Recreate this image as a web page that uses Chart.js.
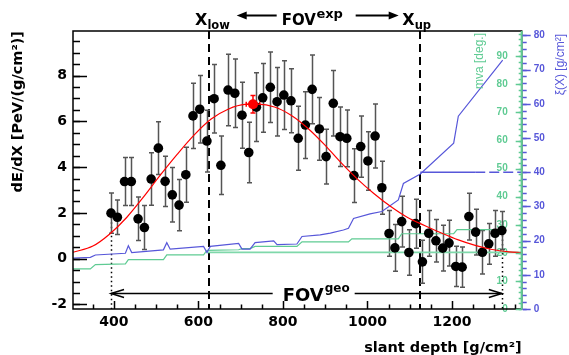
<!DOCTYPE html>
<html><head><meta charset="utf-8">
<script src="https://cdn.jsdelivr.net/npm/chart.js@4.4.1/dist/chart.umd.min.js"></script>
<style>html,body{margin:0;padding:0;background:#fff;overflow:hidden}canvas{display:block}</style>
</head><body>
<canvas id="c" width="569" height="355"></canvas>
<script>
// ---- data ----
const depth = [393,408,425,441,457,472,488,505,521,538,554,570,587,603,620,637,653,670,686,703,719,737,752,770,786,802,819,836,853,869,886,902,919,935,951,968,984,1001,1018,1034,1051,1065,1081,1098,1114,1130,1145,1162,1178,1193,1209,1224,1240,1256,1272,1287,1302,1318];
const dEdX = [1.99,1.81,3.37,3.37,1.74,1.36,3.48,4.83,3.38,2.79,2.34,3.67,6.24,6.53,5.14,6.99,4.08,7.37,7.23,6.27,4.64,6.62,7.03,7.49,6.86,7.15,6.90,5.26,5.84,7.40,5.67,4.46,6.79,5.33,5.26,3.63,4.90,4.27,5.36,3.10,1.10,0.47,1.62,0.27,1.53,-0.14,1.11,0.78,0.46,0.68,-0.34,-0.37,1.84,1.16,0.28,0.65,1.11,1.23];
const dEdXErr = [0.88,0.75,1.05,1.05,0.95,0.96,1.15,1.15,1.10,1.19,1.12,1.20,1.43,1.48,1.35,1.50,1.28,1.56,1.50,1.44,1.32,1.50,1.50,1.54,1.50,1.50,1.40,1.40,1.46,1.50,1.37,1.20,1.43,1.30,1.24,1.17,1.34,1.28,1.40,1.16,1.00,1.02,1.11,0.99,1.07,0.94,1.00,0.93,1.00,1.00,0.88,0.88,1.02,1.00,0.95,0.89,1.00,0.83];
const fitX = [303,350,390,430,470,510,550,590,630,670,710,740,780,820,860,900,935,975,1015,1055,1095,1135,1175,1215,1255,1295,1335,1365];
const fitY = [0.28,0.55,1.08,1.80,2.70,3.66,4.57,5.41,6.10,6.53,6.74,6.75,6.63,6.26,5.68,4.95,4.24,3.50,2.85,2.28,1.80,1.45,1.12,0.82,0.58,0.40,0.30,0.26];
const xmaxX = [729], xmaxY = [6.75], xmaxXErr = [16], xmaxYErr = [0.38];
const xiX = [303,344,356,427,434,442,517,525,533,612,620,628,695,703,722,734,778,786,833,845,888,912,943,955,967,1006,1034,1073,1085,1125,1204,1215,1320];
const xiY = [14.9,15.1,15.8,16.3,18.5,16.5,17.3,19.4,17.5,18.3,16.5,18.3,19.2,17.5,17.5,19.4,19.9,18.8,19.0,21.2,21.7,22.2,23.1,23.6,26.5,27.8,28.5,31.9,36.7,39.5,48.5,56.4,72.8];
const mvaX = [303,344,356,427,434,517,525,612,620,695,703,722,734,833,845,955,963,1073,1081,1204,1212,1318];
const mvaY = [14.3,14.3,15.8,16.1,17.6,17.6,19.3,19.3,20.9,21.1,21.5,21.5,22.3,22.3,23.9,23.9,25.0,25.0,26.8,26.8,28.3,28.3];
const mvaCutX = [620,1365], mvaCutY = [20.2,20.2];
const xiCutX = [1125,1255,1365], xiCutY = [40,40,40];
const X_LOW = 625, X_UP = 1125;
const xTicks = [400,600,800,1000,1200];
const yTicks = [-2,0,2,4,6,8];
const mvaTicks = [0,10,20,30,40,50,60,70,80,90];
const xiTicks = [0,10,20,30,40,50,60,70,80];

const GREEN = '#5fcb93', BLUE = '#5757d9';
const FONT = 'DejaVu Sans', RFONT = 'Liberation Sans';

function pts(xs, ys){ return xs.map((x,i)=>({x:x, y:ys[i]})); }

function drawText(ctx, s, x, y, size, color, bold, align, base, fam){
  ctx.font = (bold?'bold ':'') + size + 'px "' + (fam||FONT) + '"';
  ctx.fillStyle = color; ctx.textAlign = align||'left'; ctx.textBaseline = base||'alphabetic';
  ctx.fillText(s, x, y);
  return ctx.measureText(s).width;
}
function arrowHead(ctx, tipX, tipY, dir, len, half, fill){
  ctx.beginPath();
  ctx.moveTo(tipX + dir*len, tipY - half);
  ctx.lineTo(tipX, tipY);
  ctx.lineTo(tipX + dir*len, tipY + half);
  if (fill){ ctx.closePath(); ctx.fill(); } else ctx.stroke();
}

const deco = {
  id: 'deco',
  beforeDatasetsDraw(chart){
    const ctx = chart.ctx, a = chart.chartArea, xs = chart.scales.x, ys = chart.scales.y;
    ctx.save();
    ctx.strokeStyle = '#000'; ctx.lineWidth = 2; ctx.setLineDash([8,5]);
    [X_LOW, X_UP].forEach(v => { const p = Math.round(xs.getPixelForValue(v)); ctx.beginPath(); ctx.moveTo(p, a.top); ctx.lineTo(p, a.bottom); ctx.stroke(); });
    ctx.lineWidth = 1.5; ctx.setLineDash([1.5,3]);
    [0, depth.length-1].forEach(i => { const p = Math.round(xs.getPixelForValue(depth[i]))+0.5; ctx.beginPath(); ctx.moveTo(p, ys.getPixelForValue(dEdX[i])); ctx.lineTo(p, a.bottom); ctx.stroke(); });
    ctx.setLineDash([]);
    const yA = Math.round(ys.getPixelForValue(-1.5)) + 0.5;
    const g0 = xs.getPixelForValue(depth[0]), g1 = xs.getPixelForValue(depth[depth.length-1]);
    const gc = xs.getPixelForValue(875);
    ctx.lineWidth = 1.5; ctx.strokeStyle = '#000';
    ctx.beginPath(); ctx.moveTo(g0, yA); ctx.lineTo(gc-42, yA); ctx.moveTo(gc+40, yA); ctx.lineTo(g1, yA); ctx.stroke();
    arrowHead(ctx, g0, yA, 1, 13, 4, false);
    arrowHead(ctx, g1, yA, -1, 13, 4, false);
    const w = drawText(ctx, 'FOV', gc-32, yA+7, 18, '#000', true);
    drawText(ctx, 'geo', gc-32+w+1, yA-2, 12, '#000', true);
    ctx.strokeStyle = '#555'; ctx.lineWidth = 1.5;
    depth.forEach((d,i) => {
      const px = Math.round(xs.getPixelForValue(d))+0.5;
      const t = ys.getPixelForValue(dEdX[i]+dEdXErr[i]), b = ys.getPixelForValue(dEdX[i]-dEdXErr[i]);
      ctx.beginPath(); ctx.moveTo(px, t); ctx.lineTo(px, b);
      ctx.moveTo(px-2.5, t); ctx.lineTo(px+2.5, t); ctx.moveTo(px-2.5, b); ctx.lineTo(px+2.5, b); ctx.stroke();
    });
    ctx.strokeStyle = '#ff0000'; ctx.lineWidth = 1.5;
    const mx = xs.getPixelForValue(xmaxX[0]), my = ys.getPixelForValue(xmaxY[0]);
    const l = xs.getPixelForValue(xmaxX[0]-xmaxXErr[0]), r = xs.getPixelForValue(xmaxX[0]+xmaxXErr[0]);
    const t = ys.getPixelForValue(xmaxY[0]+xmaxYErr[0]), b = ys.getPixelForValue(xmaxY[0]-xmaxYErr[0]);
    ctx.beginPath(); ctx.moveTo(l,my); ctx.lineTo(r,my); ctx.moveTo(l,my-2.5); ctx.lineTo(l,my+2.5); ctx.moveTo(r,my-2.5); ctx.lineTo(r,my+2.5);
    ctx.moveTo(mx,t); ctx.lineTo(mx,b); ctx.moveTo(mx-2.5,t); ctx.lineTo(mx+2.5,t); ctx.moveTo(mx-2.5,b); ctx.lineTo(mx+2.5,b); ctx.stroke();
    ctx.restore();
  },
  afterDraw(chart){
    const ctx = chart.ctx, a = chart.chartArea, s = chart.scales;
    ctx.save();
    ctx.strokeStyle = '#000'; ctx.lineWidth = 1.5;
    ctx.strokeRect(a.left, a.top, a.right - a.left, a.bottom - a.top);
    function vTicks(sc, min, max, step, xEdge, len, color){
      ctx.strokeStyle = color; ctx.beginPath();
      for (let v = Math.ceil(min/step)*step; v <= max + 1e-9; v += step){
        const p = Math.round(sc.getPixelForValue(v)) + 0.5;
        ctx.moveTo(xEdge, p); ctx.lineTo(xEdge + len, p);
      }
      ctx.stroke();
    }
    ctx.lineWidth = 1.5;
    ctx.strokeStyle = '#000'; ctx.beginPath();
    for (let v = 350; v <= s.x.max; v += 50){
      const p = Math.round(s.x.getPixelForValue(v)) + 0.5;
      const len = (v % 200 === 0) ? 8 : 4.5;
      ctx.moveTo(p, a.bottom); ctx.lineTo(p, a.bottom - len);
    }
    ctx.stroke();
    vTicks(s.y, s.y.min, s.y.max, 0.5, a.left, 7, '#000');
    vTicks(s.y, s.y.min, s.y.max, 2, a.left, 14, '#000');
    ctx.lineWidth = 1.5;
    vTicks(s.yMva, 0, 98, 2, a.right, -3, GREEN);
    vTicks(s.yMva, 0, 98, 10, a.right, -6, GREEN);
    ctx.strokeStyle = GREEN; ctx.lineWidth = 2; ctx.beginPath(); ctx.moveTo(a.right, a.top); ctx.lineTo(a.right, a.bottom); ctx.stroke();
    ctx.lineWidth = 1.5;
    vTicks(s.yXi, 0, 80, 2, a.right+1, 4, BLUE);
    vTicks(s.yXi, 0, 80, 10, a.right+1, 8, BLUE);
    function vTitle(txt, x, yTop, size, color){
      ctx.save(); ctx.translate(x, yTop); ctx.rotate(-Math.PI/2);
      drawText(ctx, txt, 0, 0, size, color, false, 'right', 'middle', RFONT);
      ctx.restore();
    }
    vTitle('mva [deg.]', 480, 33, 12, GREEN);
    vTitle('\u03BE(X) [g/cm\u00B2]', 561, 34, 12, BLUE);
    const xl = s.x.getPixelForValue(X_LOW), xu = s.x.getPixelForValue(X_UP), cx = (xl + xu)/2;
    let w = drawText(ctx, 'X', xl-14, 25, 16, '#000', true);
    drawText(ctx, 'low', xl-14+w, 28.5, 11.5, '#000', true);
    ctx.strokeStyle = '#000'; ctx.fillStyle = '#000'; ctx.lineWidth = 2;
    ctx.beginPath(); ctx.moveTo(cx-72, 15.5); ctx.lineTo(cx-38, 15.5); ctx.stroke();
    arrowHead(ctx, cx-78, 15.5, 1, 10, 4, true);
    w = drawText(ctx, 'FOV', cx-33, 25, 15, '#000', true);
    drawText(ctx, 'exp', cx-33+w+0.5, 17.5, 13, '#000', true);
    ctx.strokeStyle = '#000'; ctx.fillStyle = '#000';
    ctx.beginPath(); ctx.moveTo(cx+41, 15.5); ctx.lineTo(cx+78, 15.5); ctx.stroke();
    arrowHead(ctx, cx+84, 15.5, -1, 10, 4, true);
    w = drawText(ctx, 'X', xu-18, 25, 16, '#000', true);
    drawText(ctx, 'up', xu-18+w, 28.5, 11.5, '#000', true);
    ctx.restore();
  }
};

const tickFont = {family: FONT, weight: 'bold', size: 14};
new Chart(document.getElementById('c'), {
  type: 'scatter',
  data: { datasets: [
    { data: pts(xmaxX, xmaxY), xAxisID:'x', yAxisID:'y', pointRadius: 5, backgroundColor: '#ff0000', borderColor: '#ff0000', pointBorderWidth: 0 },
    { data: pts(fitX, fitY), xAxisID:'x', yAxisID:'y', showLine: true, pointRadius: 0, borderColor: '#ff0000', borderWidth: 1.2, cubicInterpolationMode: 'monotone' },
    { data: pts(depth, dEdX), xAxisID:'x', yAxisID:'y', pointRadius: 4.8, backgroundColor: '#000', borderColor: '#000', pointBorderWidth: 0 },
    { data: pts(xiX, xiY), xAxisID:'x', yAxisID:'yXi', showLine: true, pointRadius: 0, borderColor: BLUE, borderWidth: 1.2 },
    { data: pts(xiCutX, xiCutY), xAxisID:'x', yAxisID:'yXi', showLine: true, pointRadius: 0, borderColor: BLUE, borderWidth: 1.5,
      segment: { borderDash: c => c.p0DataIndex >= 1 ? [10,4] : undefined } },
    { data: pts(mvaX, mvaY), xAxisID:'x', yAxisID:'yMva', showLine: true, pointRadius: 0, borderColor: GREEN, borderWidth: 1.2 },
    { data: pts(mvaCutX, mvaCutY), xAxisID:'x', yAxisID:'yMva', showLine: true, pointRadius: 0, borderColor: '#7fd8aa', borderWidth: 1.8 }
  ]},
  options: {
    responsive: false, animation: false, devicePixelRatio: 1,
    layout: { padding: { top: 31, left: 0, right: 0, bottom: 0 } },
    plugins: { legend: {display: false}, tooltip: {enabled: false} },
    scales: {
      x: { type: 'linear', position: 'bottom', min: 303, max: 1365,
        afterBuildTicks: sc => { sc.ticks = xTicks.map(v => ({value: v})); },
        afterFit: sc => { sc.height = 46; },
        grid: {display: false, drawTicks: false}, border: {display: false},
        ticks: { color: '#000', font: tickFont, padding: 5, maxRotation: 0, autoSkip: false, callback: v => String(v) },
        title: { display: true, text: 'slant depth [g/cm\u00B2]', align: 'end', color: '#000', font: {family: FONT, weight: 'bold', size: 14.5}, padding: {top: 0, bottom: -2} } },
      y: { type: 'linear', position: 'left', min: -2.2, max: 9.95,
        afterBuildTicks: sc => { sc.ticks = yTicks.map(v => ({value: v})); },
        afterFit: sc => { sc.width = 73; },
        grid: {display: false, drawTicks: false}, border: {display: false},
        ticks: { color: '#000', font: tickFont, padding: 6, autoSkip: false, callback: v => String(v) },
        title: { display: true, text: 'dE/dX [PeV/(g/cm\u00B2)]', align: 'end', color: '#000', font: {family: FONT, weight: 'bold', size: 14.5}, padding: {top: 10, bottom: 0} } },
      yMva: { type: 'linear', position: 'right', weight: 0, min: 0, max: 99,
        afterBuildTicks: sc => { sc.ticks = mvaTicks.map(v => ({value: v})); },
        afterFit: sc => { sc.width = 0; },
        grid: {display: false, drawTicks: false}, border: {display: false},
        ticks: { mirror: true, color: GREEN, font: {family: RFONT, weight: 'bold', size: 10}, padding: -14, autoSkip: false, callback: v => String(v) } },
      yXi: { type: 'linear', position: 'right', weight: 1, min: 0, max: 81.3,
        afterBuildTicks: sc => { sc.ticks = xiTicks.map(v => ({value: v})); },
        afterFit: sc => { sc.width = 47.3; },
        grid: {display: false, drawTicks: false}, border: {display: false},
        ticks: { color: BLUE, font: {family: RFONT, weight: 'bold', size: 10}, padding: 12, autoSkip: false, callback: v => String(v) } }
    }
  },
  plugins: [deco]
});
</script>
</body></html>
